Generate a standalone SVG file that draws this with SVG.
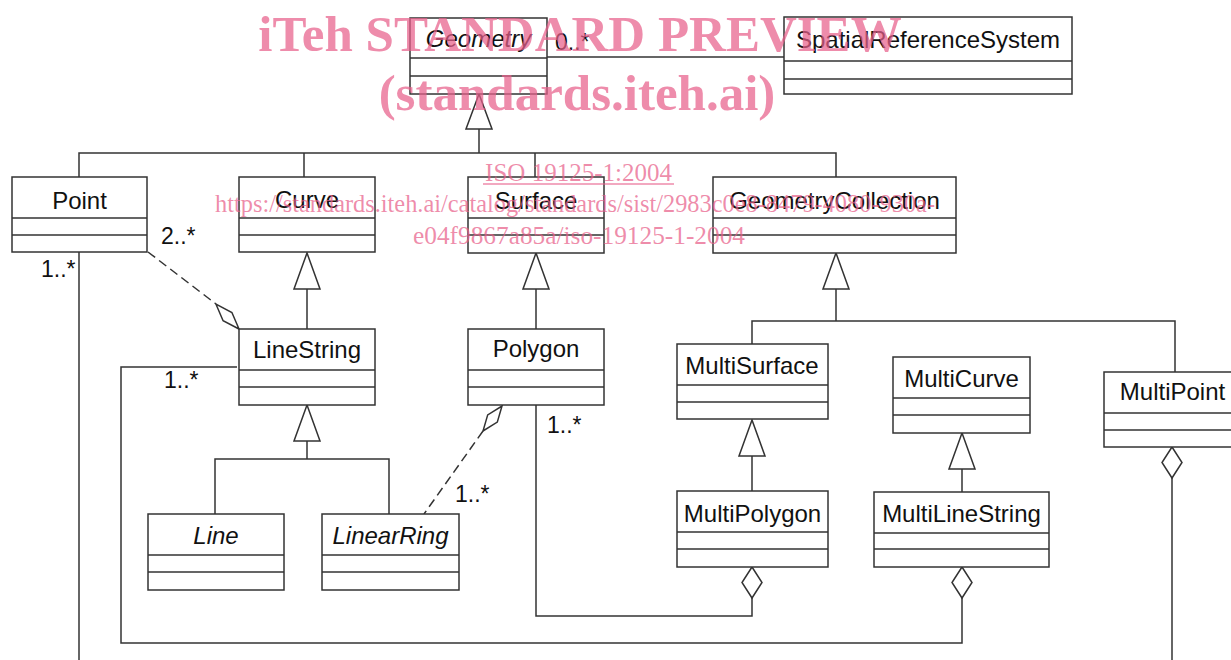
<svg xmlns="http://www.w3.org/2000/svg" width="1231" height="660" viewBox="0 0 1231 660">
<style>
.box{fill:#fff;stroke:#333;stroke-width:1.5}
.div{stroke:#333;stroke-width:1.5;fill:none}
.name{font-family:"Liberation Sans",Arial,Helvetica,sans-serif;font-size:24px;fill:#111;text-anchor:middle}
.it{font-style:italic}
.ln{fill:none;stroke:#333;stroke-width:1.5}
.dash{fill:none;stroke:#333;stroke-width:1.5;stroke-dasharray:9 5}
.tri{fill:#fff;stroke:#333;stroke-width:1.5;stroke-linejoin:miter}
.dia{fill:#fff;stroke:#333;stroke-width:1.5}
.mult{font-family:"Liberation Sans",Arial,Helvetica,sans-serif;font-size:23px;fill:#111}
.wm{font-family:"Liberation Serif","Times New Roman",serif;fill:#e8608a;fill-opacity:0.72;text-anchor:middle}
.wmb{font-weight:bold;font-size:51px}
.wms{font-size:25px}
</style>

<g id="connectors">
  <!-- Geometry - SRS association -->
  <line class="ln" x1="547" y1="57" x2="784" y2="57"/>
  <!-- generalization tree to Geometry -->
  <polyline class="ln" points="79,177 79,153 836,153 836,177"/>
  <line class="ln" x1="304" y1="153" x2="304" y2="177"/>
  <line class="ln" x1="535" y1="153" x2="535" y2="177"/>
  <line class="ln" x1="479" y1="153" x2="479" y2="129"/>
  <polygon class="tri" points="479,94 466,129 492,129"/>
  <!-- Curve <- LineString -->
  <line class="ln" x1="307" y1="289" x2="307" y2="329"/>
  <polygon class="tri" points="307,253 294,289 320,289"/>
  <!-- Surface <- Polygon -->
  <line class="ln" x1="536" y1="289" x2="536" y2="329"/>
  <polygon class="tri" points="536,253 523,289 549,289"/>
  <!-- GeometryCollection <- MultiSurface, MultiPoint -->
  <line class="ln" x1="836" y1="289" x2="836" y2="321"/>
  <polyline class="ln" points="752,344 752,321 1175,321 1175,372"/>
  <polygon class="tri" points="836,253 823,289 849,289"/>
  <!-- LineString <- Line, LinearRing -->
  <line class="ln" x1="307" y1="441" x2="307" y2="459"/>
  <polyline class="ln" points="215,514 215,459 389,459 389,514"/>
  <polygon class="tri" points="307,405 294,441 320,441"/>
  <!-- MultiSurface <- MultiPolygon -->
  <line class="ln" x1="752" y1="456" x2="752" y2="491"/>
  <polygon class="tri" points="752,420 739,456 765,456"/>
  <!-- MultiCurve <- MultiLineString -->
  <line class="ln" x1="962" y1="469" x2="962" y2="492"/>
  <polygon class="tri" points="962,433 949,469 975,469"/>
  <!-- Point - LineString aggregation (dashed) -->
  <line class="dash" x1="148" y1="252" x2="216" y2="304"/>
  <polygon class="dia" points="239,329 231.9,312.5 216,304.2 223.1,320.7"/>
  <!-- Polygon - LinearRing aggregation (dashed) -->
  <line class="dash" x1="483" y1="431" x2="424" y2="514"/>
  <polygon class="dia" points="502,406 497.3,422.1 483,431 487.7,414.9"/>
  <!-- LineString - MultiLineString aggregation -->
  <polyline class="ln" points="237,367 121,367 121,643 962,643 962,598"/>
  <polygon class="dia" points="962,567 972,582.5 962,598 952,582.5"/>
  <!-- Polygon - MultiPolygon aggregation -->
  <polyline class="ln" points="536,405 536,616 752,616 752,598"/>
  <polygon class="dia" points="752,567 762,582.5 752,598 742,582.5"/>
  <!-- Point - MultiPoint aggregation -->
  <line class="ln" x1="79" y1="252" x2="79" y2="660"/>
  <line class="ln" x1="1172" y1="478" x2="1172" y2="660"/>
  <polygon class="dia" points="1172,447 1182,462.5 1172,478 1162,462.5"/>
  <!-- multiplicities -->
  <text class="mult" x="555" y="50">0..*</text>
  <text class="mult" x="161" y="244">2..*</text>
  <text class="mult" x="41" y="277">1..*</text>
  <text class="mult" x="164" y="388">1..*</text>
  <text class="mult" x="547" y="433">1..*</text>
  <text class="mult" x="455" y="502">1..*</text>
</g>

<g id="Geometry">
  <rect class="box" x="410" y="18" width="137" height="76"/>
  <path class="div" d="M410 58H547M410 76H547"/>
  <text class="name it" x="478.5" y="47">Geometry</text>
</g>
<g id="SpatialReferenceSystem">
  <rect class="box" x="784" y="17" width="288" height="77"/>
  <path class="div" d="M784 61H1072M784 79H1072"/>
  <text class="name" x="928" y="48">SpatialReferenceSystem</text>
</g>
<g id="Point">
  <rect class="box" x="12" y="177" width="135" height="75"/>
  <path class="div" d="M12 218H147M12 235H147"/>
  <text class="name" x="79.5" y="209">Point</text>
</g>
<g id="Curve">
  <rect class="box" x="239" y="177" width="136" height="75"/>
  <path class="div" d="M239 218H375M239 235H375"/>
  <text class="name" x="307" y="208">Curve</text>
</g>
<g id="Surface">
  <rect class="box" x="468" y="177" width="136" height="76"/>
  <path class="div" d="M468 218H604M468 235H604"/>
  <text class="name" x="536" y="209">Surface</text>
</g>
<g id="GeometryCollection">
  <rect class="box" x="713" y="177" width="243" height="76"/>
  <path class="div" d="M713 218H956M713 235H956"/>
  <text class="name" x="834.5" y="209">GeometryCollection</text>
</g>
<g id="LineString">
  <rect class="box" x="239" y="329" width="136" height="76"/>
  <path class="div" d="M239 370H375M239 387H375"/>
  <text class="name" x="307" y="358">LineString</text>
</g>
<g id="Polygon">
  <rect class="box" x="468" y="329" width="136" height="76"/>
  <path class="div" d="M468 370H604M468 387H604"/>
  <text class="name" x="536" y="357">Polygon</text>
</g>
<g id="MultiSurface">
  <rect class="box" x="677" y="344" width="151" height="75"/>
  <path class="div" d="M677 385H828M677 402H828"/>
  <text class="name" x="752" y="374">MultiSurface</text>
</g>
<g id="MultiCurve">
  <rect class="box" x="893" y="357" width="137" height="76"/>
  <path class="div" d="M893 398H1030M893 415H1030"/>
  <text class="name" x="961.5" y="387">MultiCurve</text>
</g>
<g id="MultiPoint">
  <rect class="box" x="1104" y="372" width="140" height="75"/>
  <path class="div" d="M1104 413H1244M1104 430H1244"/>
  <text class="name" x="1172.5" y="400">MultiPoint</text>
</g>
<g id="Line">
  <rect class="box" x="148" y="514" width="136" height="76"/>
  <path class="div" d="M148 555H284M148 572H284"/>
  <text class="name it" x="216" y="544">Line</text>
</g>
<g id="LinearRing">
  <rect class="box" x="322" y="514" width="137" height="76"/>
  <path class="div" d="M322 555H459M322 572H459"/>
  <text class="name it" x="390.5" y="544">LinearRing</text>
</g>
<g id="MultiPolygon">
  <rect class="box" x="677" y="491" width="151" height="76"/>
  <path class="div" d="M677 532H828M677 549H828"/>
  <text class="name" x="752.5" y="522">MultiPolygon</text>
</g>
<g id="MultiLineString">
  <rect class="box" x="874" y="492" width="175" height="75"/>
  <path class="div" d="M874 533H1049M874 549H1049"/>
  <text class="name" x="961.5" y="522">MultiLineString</text>
</g>

<g id="watermark">
  <text class="wm wmb" x="580" y="51">iTeh STANDARD PREVIEW</text>
  <text class="wm wmb" x="577" y="110">(standards.iteh.ai)</text>
  <text class="wm wms" x="578.5" y="181">ISO 19125-1:2004</text>
  <line x1="483" y1="184" x2="674" y2="184" stroke="#e8608a" stroke-opacity="0.72" stroke-width="1.5"/>
  <text class="wm wms" x="575" y="212" textLength="720" lengthAdjust="spacingAndGlyphs">https://standards.iteh.ai/catalog/standards/sist/2983c0e8-8479-4080-930a-</text>
  <text class="wm wms" x="579" y="244" textLength="332" lengthAdjust="spacingAndGlyphs">e04f9867a85a/iso-19125-1-2004</text>
</g>
</svg>
